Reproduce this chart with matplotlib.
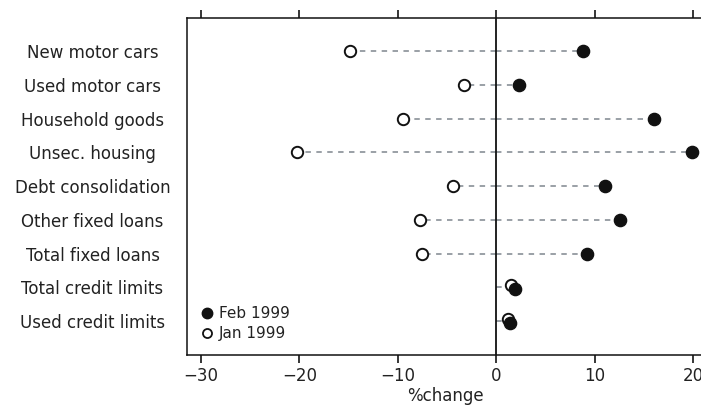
import matplotlib
matplotlib.use("Agg")
import matplotlib.pyplot as plt
from matplotlib.lines import Line2D
import numpy as np

categories = ["New motor cars", "Used motor cars", "Household goods", "Unsec. housing",
              "Debt consolidation", "Other fixed loans", "Total fixed loans",
              "Total credit limits", "Used credit limits"]
feb_1999 = [8.8, 2.3, 16.0, 19.9, 11.0, 12.6, 9.2, 1.9, 1.4]
jan_1999 = [-14.9, -3.3, -9.5, -20.2, -4.4, -7.7, -7.5, 1.5, 1.2]
xticks = [-30, -20, -10, 0, 10, 20]
xtick_labels = ["\u221230", "\u221220", "\u221210", "0", "10", "20"]

plt.rcParams['font.family'] = ['DejaVu Sans']
fig = plt.figure(figsize=(7.01, 4.08), dpi=100)
ax = fig.add_axes([187/701, 1-355/408, 1.003-187/701, (355-18)/408])

y = np.arange(len(categories))
feb = np.array(feb_1999)
jan = np.array(jan_1999)
close = np.abs(feb - jan) < 1
nudge = np.where(close, 0.06, 0.0)

line_col = "#9aa0a6"
for yi, f, j in zip(y, feb, jan):
    ax.plot([0, f], [yi, yi], ls=(0, (2.8, 2.8)), color=line_col, lw=1.4, zorder=1)
    ax.plot([0, j], [yi, yi], ls=(0, (2.8, 2.8)), color=line_col, lw=1.4, zorder=1)

ax.axvline(0, color="#111111", lw=1.3, zorder=2)

ax.plot(jan, y - nudge, 'o', ms=8.2, mfc='white', mec='#111111', mew=1.4, ls='none', zorder=3)
ax.plot(feb, y + nudge, 'o', ms=8.8, mfc='#111111', mec='#111111', ls='none', zorder=4)

ax.set_xlim(-31.4, 21.0)
ax.set_ylim(9.0, -0.98)
ax.set_xticks(xticks)
ax.set_xticklabels(xtick_labels, fontsize=12, color='#222222')
ax.set_yticks(y)
ax.set_yticklabels(categories, fontsize=12, color='#222222', ha='center')
ax.tick_params(axis='y', length=0, pad=68)
ax.tick_params(axis='x', which='both', top=True, bottom=True, direction='out',
               length=6, width=1.1, pad=2.5)
ax.spines['right'].set_visible(False)
for s in ['left', 'top', 'bottom']:
    ax.spines[s].set_linewidth(1.1)
    ax.spines[s].set_color('#111111')
ax.set_xlabel("%change", fontsize=12, color='#222222', labelpad=1.5)

handles = [Line2D([], [], marker='o', ls='none', ms=7.5, mfc='#111111', mec='#111111'),
           Line2D([], [], marker='o', ls='none', ms=6.5, mfc='white', mec='#111111', mew=1.3)]
leg = ax.legend(handles, ["Feb 1999", "Jan 1999"], loc='lower left',
                bbox_to_anchor=(0.0, 0.01), frameon=False, fontsize=11,
                handletextpad=0.2, labelspacing=0.32, handlelength=1.2, borderaxespad=0.3)
for t in leg.get_texts():
    t.set_color('#222222')

fig.savefig("out.png", dpi=100)
